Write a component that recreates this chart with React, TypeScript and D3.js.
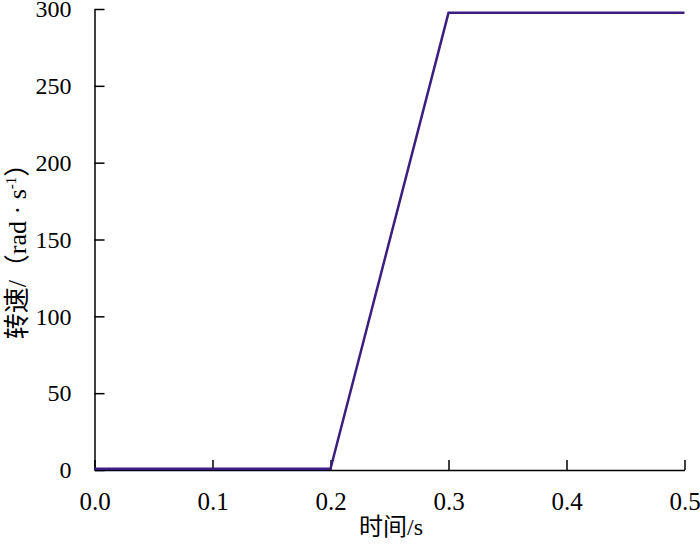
import { useEffect, useRef } from "react";
import * as d3 from "d3";

// time (s) and rotating speed (rad/s)
const timeValues = [0, 0.2, 0.3, 0.5];
const speedValues = [0.8, 0.8, 297.5, 297.5];
const xTicks = [0, 0.1, 0.2, 0.3, 0.4, 0.5];
const yTicks = [0, 50, 100, 150, 200, 250, 300];

export default function App() {
  const ref = useRef<SVGSVGElement>(null);

  useEffect(() => {
    if (!ref.current) return;
    const svg = d3.select(ref.current);
    svg.selectAll("*").remove();

    const font = "'Liberation Serif', 'Times New Roman', serif";
    const cjk = "'Liberation Serif', 'Noto Sans CJK SC', serif";

    const x = d3.scaleLinear().domain([0, 0.5]).range([94.5, 684.5]);
    const y = d3.scaleLinear().domain([0, 300]).range([470, 9]);

    // x axis, ticks pointing inward
    const xAxis = svg
      .append("g")
      .attr("transform", `translate(0,${y(0)})`)
      .call(
        d3
          .axisBottom(x)
          .tickValues(xTicks)
          .tickSize(-10)
          .tickSizeOuter(0)
          .tickPadding(22)
          .tickFormat(d3.format(".1f"))
      );
    xAxis.select(".domain").attr("stroke", "#000").attr("stroke-width", 1.5);
    xAxis.selectAll(".tick line").attr("stroke-width", 1.5);
    xAxis
      .selectAll("text")
      .style("font-family", font)
      .style("font-size", "25px")
      .attr("fill", "#000");

    // y axis
    const yAxis = svg
      .append("g")
      .attr("transform", `translate(${x(0)},0)`)
      .call(
        d3
          .axisLeft(y)
          .tickValues(yTicks)
          .tickSize(-10)
          .tickSizeOuter(0)
          .tickPadding(23)
      );
    yAxis.select(".domain").attr("stroke", "#000").attr("stroke-width", 1.5);
    yAxis.selectAll(".tick line").attr("stroke-width", 1.5);
    yAxis
      .selectAll("text")
      .style("font-family", font)
      .style("font-size", "24px")
      .attr("fill", "#000");

    // speed curve
    const line = d3
      .line<number>()
      .x((_, i) => x(timeValues[i]))
      .y((d) => y(d));
    svg
      .append("path")
      .datum(speedValues)
      .attr("d", line)
      .attr("fill", "none")
      .attr("stroke", "#3b1f7e")
      .attr("stroke-width", 2.5);

    // axis titles
    svg
      .append("text")
      .attr("x", 391)
      .attr("y", 535)
      .attr("text-anchor", "middle")
      .style("font-family", cjk)
      .style("font-size", "24px")
      .text("时间/s");

    const yTitle = svg
      .append("text")
      .attr("transform", "translate(26,245) rotate(-90)")
      .attr("text-anchor", "middle")
      .style("font-family", cjk)
      .style("font-size", "26px");
    yTitle.append("tspan").text("转速/（rad · s");
    yTitle
      .append("tspan")
      .attr("dy", -10)
      .style("font-size", "15px")
      .text("-1");
    yTitle.append("tspan").attr("dy", 10).text("）");
  }, []);

  return (
    <svg
      ref={ref}
      width={700}
      height={546}
      style={{ position: "absolute", left: 0, top: 0, background: "#fff" }}
    />
  );
}
